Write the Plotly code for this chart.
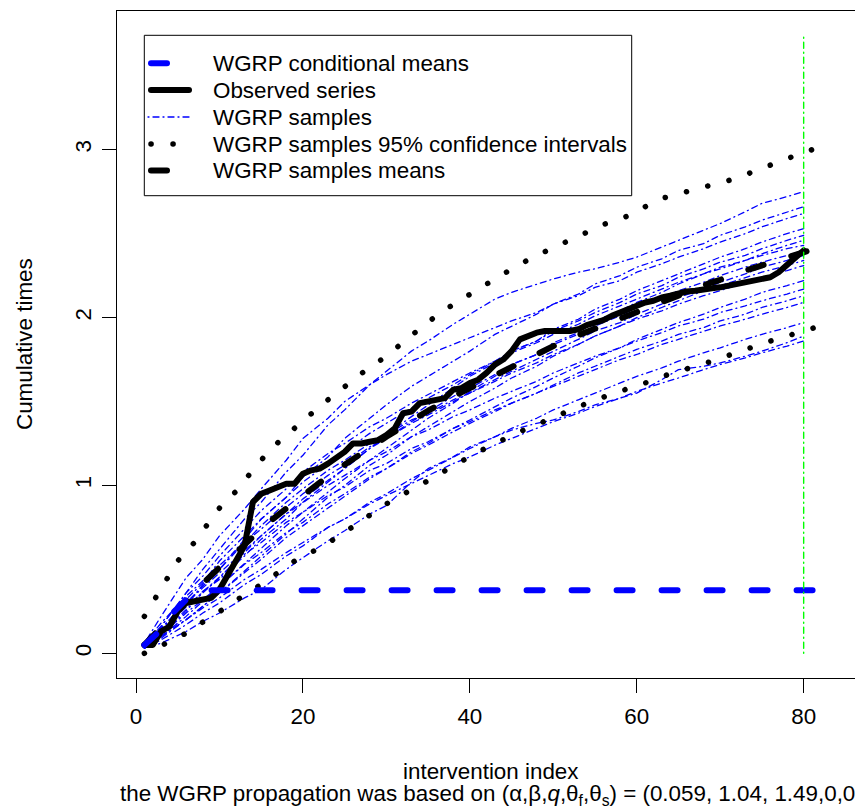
import plotly.graph_objects as go

# ---------------- data ----------------
X_OBS = list(range(1, 81))
OBSERVED = [0.05, 0.05, 0.13, 0.16, 0.25, 0.30, 0.31, 0.32, 0.33, 0.38,
            0.47, 0.56, 0.64, 0.90, 0.95, 0.97, 0.99, 1.01, 1.01, 1.07,
            1.09, 1.10, 1.13, 1.16, 1.20, 1.25, 1.25, 1.26, 1.27, 1.30,
            1.34, 1.43, 1.44, 1.49, 1.50, 1.51, 1.52, 1.57, 1.58, 1.61,
            1.63, 1.67, 1.72, 1.75, 1.80, 1.87, 1.89, 1.91, 1.92, 1.92,
            1.92, 1.92, 1.93, 1.955, 1.97, 1.985, 2.01, 2.03, 2.05, 2.075,
            2.09, 2.10, 2.12, 2.13, 2.145, 2.155, 2.16, 2.17, 2.175, 2.18,
            2.19, 2.20, 2.21, 2.22, 2.23, 2.24, 2.27, 2.31, 2.36, 2.40]

X_EXT = list(range(1, 84))
COND_MEANS = [0.05, 0.09, 0.14, 0.22, 0.27, 0.32, 0.355, 0.375, 0.375, 0.375,
              0.375, 0.375, 0.375, 0.375, 0.375, 0.375, 0.375, 0.375, 0.375, 0.375,
              0.375, 0.375, 0.375, 0.375, 0.375, 0.375, 0.375, 0.375, 0.375, 0.375,
              0.375, 0.375, 0.375, 0.375, 0.375, 0.375, 0.375, 0.375, 0.375, 0.375,
              0.375, 0.375, 0.375, 0.375, 0.375, 0.375, 0.375, 0.375, 0.375, 0.375,
              0.375, 0.375, 0.375, 0.375, 0.375, 0.375, 0.375, 0.375, 0.375, 0.375,
              0.375, 0.375, 0.375, 0.375, 0.375, 0.375, 0.375, 0.375, 0.375, 0.375,
              0.375, 0.375, 0.375, 0.375, 0.375, 0.375, 0.375, 0.375, 0.375, 0.375,
              0.375, 0.375, 0.375]
SAMPLE_MEANS = [0.05, 0.10, 0.155, 0.21, 0.26, 0.31, 0.36, 0.415, 0.465, 0.51,
                0.56, 0.60, 0.65, 0.695, 0.74, 0.785, 0.825, 0.865, 0.905, 0.945,
                0.985, 1.02, 1.055, 1.09, 1.125, 1.16, 1.19, 1.225, 1.255, 1.29,
                1.32, 1.355, 1.385, 1.415, 1.445, 1.475, 1.50, 1.53, 1.555, 1.58,
                1.605, 1.63, 1.66, 1.685, 1.71, 1.735, 1.76, 1.785, 1.81, 1.83,
                1.855, 1.875, 1.895, 1.915, 1.935, 1.955, 1.975, 1.995, 2.015, 2.035,
                2.055, 2.075, 2.095, 2.115, 2.135, 2.155, 2.175, 2.19, 2.21, 2.225,
                2.245, 2.26, 2.28, 2.295, 2.31, 2.325, 2.34, 2.355, 2.375, 2.39,
                2.405, 2.42, 2.44]
CI_UPPER = [0.22, 0.30, 0.39, 0.47, 0.55, 0.61, 0.66, 0.73, 0.80, 0.865,
            0.92, 0.965, 1.03, 1.09, 1.15, 1.21, 1.255, 1.30, 1.34, 1.385,
            1.43, 1.47, 1.51, 1.55, 1.59, 1.635, 1.67, 1.705, 1.735, 1.77,
            1.81, 1.855, 1.895, 1.935, 1.98, 2.02, 2.05, 2.075, 2.11, 2.14,
            2.17, 2.20, 2.225, 2.26, 2.285, 2.315, 2.345, 2.37, 2.395, 2.42,
            2.44, 2.46, 2.485, 2.51, 2.535, 2.555, 2.57, 2.59, 2.605, 2.625,
            2.66, 2.69, 2.71, 2.72, 2.735, 2.75, 2.765, 2.775, 2.79, 2.80,
            2.815, 2.83, 2.85, 2.87, 2.89, 2.91, 2.93, 2.95, 2.965, 2.98,
            3.00, 3.02, 3.04]
CI_LOWER = [0.00, 0.02, 0.045, 0.07, 0.095, 0.12, 0.155, 0.185, 0.215, 0.245,
            0.28, 0.315, 0.35, 0.38, 0.41, 0.445, 0.475, 0.515, 0.55, 0.575,
            0.60, 0.625, 0.655, 0.69, 0.72, 0.755, 0.79, 0.82, 0.855, 0.89,
            0.92, 0.95, 0.975, 1.00, 1.03, 1.06, 1.09, 1.12, 1.145, 1.17,
            1.20, 1.225, 1.25, 1.27, 1.295, 1.32, 1.34, 1.36, 1.38, 1.40,
            1.425, 1.45, 1.47, 1.49, 1.51, 1.525, 1.545, 1.56, 1.58, 1.595,
            1.61, 1.63, 1.645, 1.665, 1.68, 1.695, 1.705, 1.72, 1.74, 1.755,
            1.775, 1.795, 1.81, 1.825, 1.845, 1.86, 1.875, 1.89, 1.905, 1.92,
            1.935, 1.95, 1.965]

SAMPLE_X = [1, 3, 6, 8, 10, 13, 15, 18, 20, 23, 25, 28, 30, 33, 35, 38, 40, 43, 45,
            48, 50, 53, 55, 58, 60, 63, 65, 68, 70, 73, 75, 78, 80]
SAMPLES = [
    [0.05, 0.16, 0.36, 0.50, 0.62, 0.80, 0.90, 1.08, 1.18, 1.36, 1.45, 1.60, 1.68, 1.80, 1.86, 1.96, 2.02, 2.11, 2.15, 2.20, 2.23, 2.27, 2.29, 2.33, 2.36, 2.42, 2.46, 2.52, 2.56, 2.63, 2.68, 2.72, 2.75],
    [0.05, 0.12, 0.28, 0.41, 0.50, 0.68, 0.80, 0.93, 1.05, 1.17, 1.28, 1.40, 1.48, 1.59, 1.65, 1.74, 1.80, 1.90, 1.95, 2.02, 2.08, 2.14, 2.20, 2.25, 2.30, 2.35, 2.40, 2.44, 2.49, 2.54, 2.58, 2.63, 2.66],
    [0.06, 0.22, 0.45, 0.56, 0.70, 0.86, 0.98, 1.15, 1.28, 1.40, 1.50, 1.60, 1.66, 1.74, 1.78, 1.84, 1.88, 1.94, 1.98, 2.03, 2.08, 2.13, 2.18, 2.22, 2.27, 2.32, 2.36, 2.41, 2.45, 2.50, 2.54, 2.59, 2.62],
    [0.04, 0.11, 0.25, 0.37, 0.44, 0.58, 0.68, 0.80, 0.90, 1.02, 1.10, 1.22, 1.30, 1.41, 1.48, 1.58, 1.65, 1.73, 1.80, 1.86, 1.93, 1.99, 2.05, 2.11, 2.16, 2.22, 2.26, 2.32, 2.36, 2.41, 2.45, 2.50, 2.53],
    [0.05, 0.14, 0.32, 0.42, 0.55, 0.70, 0.80, 0.93, 1.02, 1.13, 1.20, 1.31, 1.37, 1.46, 1.52, 1.60, 1.66, 1.74, 1.80, 1.86, 1.92, 1.98, 2.03, 2.09, 2.14, 2.19, 2.24, 2.29, 2.33, 2.37, 2.41, 2.46, 2.49],
    [0.03, 0.10, 0.22, 0.31, 0.40, 0.53, 0.62, 0.76, 0.84, 0.96, 1.04, 1.15, 1.22, 1.33, 1.40, 1.49, 1.56, 1.65, 1.72, 1.78, 1.85, 1.91, 1.98, 2.04, 2.09, 2.15, 2.20, 2.26, 2.30, 2.34, 2.38, 2.43, 2.46],
    [0.05, 0.16, 0.36, 0.46, 0.58, 0.74, 0.85, 0.98, 1.08, 1.19, 1.25, 1.35, 1.40, 1.49, 1.54, 1.62, 1.67, 1.74, 1.79, 1.85, 1.90, 1.96, 2.01, 2.07, 2.11, 2.17, 2.21, 2.26, 2.29, 2.34, 2.37, 2.41, 2.43],
    [0.04, 0.12, 0.26, 0.36, 0.45, 0.60, 0.70, 0.83, 0.92, 1.03, 1.10, 1.22, 1.28, 1.38, 1.44, 1.53, 1.58, 1.66, 1.72, 1.78, 1.84, 1.90, 1.95, 2.01, 2.06, 2.12, 2.16, 2.21, 2.25, 2.30, 2.33, 2.37, 2.40],
    [0.06, 0.18, 0.34, 0.43, 0.52, 0.66, 0.74, 0.87, 0.95, 1.06, 1.12, 1.23, 1.28, 1.37, 1.42, 1.50, 1.55, 1.63, 1.68, 1.75, 1.80, 1.87, 1.92, 1.97, 2.02, 2.08, 2.12, 2.17, 2.21, 2.26, 2.30, 2.34, 2.37],
    [0.04, 0.10, 0.20, 0.28, 0.36, 0.49, 0.58, 0.71, 0.80, 0.93, 1.00, 1.12, 1.18, 1.29, 1.35, 1.44, 1.50, 1.58, 1.64, 1.71, 1.77, 1.84, 1.89, 1.95, 2.00, 2.06, 2.10, 2.16, 2.19, 2.24, 2.27, 2.31, 2.34],
    [0.05, 0.13, 0.30, 0.40, 0.50, 0.66, 0.76, 0.90, 0.98, 1.09, 1.15, 1.25, 1.30, 1.39, 1.43, 1.51, 1.55, 1.62, 1.67, 1.73, 1.78, 1.84, 1.89, 1.95, 1.99, 2.04, 2.08, 2.13, 2.16, 2.21, 2.24, 2.28, 2.31],
    [0.03, 0.09, 0.20, 0.28, 0.36, 0.48, 0.56, 0.69, 0.76, 0.87, 0.94, 1.04, 1.10, 1.20, 1.25, 1.34, 1.39, 1.47, 1.52, 1.59, 1.64, 1.71, 1.76, 1.82, 1.87, 1.93, 1.97, 2.02, 2.06, 2.11, 2.15, 2.19, 2.22],
    [0.05, 0.15, 0.30, 0.39, 0.48, 0.61, 0.70, 0.83, 0.90, 1.00, 1.06, 1.15, 1.20, 1.29, 1.33, 1.41, 1.45, 1.52, 1.56, 1.62, 1.67, 1.73, 1.77, 1.82, 1.86, 1.91, 1.95, 1.99, 2.03, 2.07, 2.10, 2.14, 2.17],
    [0.04, 0.11, 0.24, 0.32, 0.40, 0.53, 0.60, 0.72, 0.78, 0.89, 0.95, 1.05, 1.10, 1.19, 1.24, 1.32, 1.37, 1.44, 1.49, 1.55, 1.60, 1.67, 1.71, 1.77, 1.81, 1.86, 1.90, 1.94, 1.98, 2.02, 2.06, 2.10, 2.13],
    [0.05, 0.14, 0.28, 0.37, 0.46, 0.59, 0.66, 0.78, 0.84, 0.94, 0.99, 1.09, 1.13, 1.22, 1.26, 1.34, 1.38, 1.45, 1.49, 1.55, 1.59, 1.65, 1.69, 1.75, 1.78, 1.84, 1.87, 1.92, 1.95, 1.99, 2.02, 2.06, 2.09],
    [0.03, 0.08, 0.17, 0.24, 0.30, 0.41, 0.47, 0.58, 0.64, 0.75, 0.80, 0.90, 0.95, 1.04, 1.09, 1.17, 1.22, 1.29, 1.34, 1.40, 1.45, 1.51, 1.55, 1.61, 1.65, 1.70, 1.74, 1.79, 1.82, 1.87, 1.90, 1.94, 1.97],
    [0.03, 0.06, 0.13, 0.19, 0.24, 0.33, 0.38, 0.50, 0.57, 0.67, 0.73, 0.83, 0.88, 1.02, 1.10, 1.17, 1.23, 1.29, 1.33, 1.37, 1.39, 1.44, 1.48, 1.52, 1.55, 1.63, 1.69, 1.71, 1.73, 1.77, 1.80, 1.85, 1.89],
    [0.04, 0.10, 0.20, 0.27, 0.33, 0.44, 0.50, 0.60, 0.66, 0.75, 0.80, 0.89, 0.94, 1.01, 1.06, 1.13, 1.17, 1.24, 1.28, 1.34, 1.38, 1.43, 1.47, 1.52, 1.56, 1.61, 1.64, 1.69, 1.72, 1.76, 1.79, 1.83, 1.86],
]

GREEN_X = [80, 80]
GREEN_Y = [0.0, 3.68]

X_TICKS = [0, 20, 40, 60, 80]
Y_TICKS = [0, 1, 2, 3]

LEGEND_LABELS = ["WGRP conditional means", "Observed series", "WGRP samples",
                 "WGRP samples 95% confidence intervals", "WGRP samples means"]
X_TITLE = "intervention index"
Y_TITLE = "Cumulative times"
SUBTITLE = ("the WGRP propagation was based on (α,β,<i>q</i>,θ<sub>f</sub>,θ<sub>s</sub>) "
            "= (0.059, 1.04, 1.49,0,0)")

# ---------------- layout geometry ----------------
W, H = 855, 807
PL, PR, PT, PB = 117, 855, 11, 678   # plot area in pixels
FONT = "Liberation Sans, Arial, Helvetica, sans-serif"
FS = 22.4

def pxx(px):
    return (px - PL) / (PR - PL)

def pxy(py):
    return (PB - py) / (PB - PT)

BLUE = "#0000FF"
SAMPLE_DASH = "1px,4px,6px,4px"
THICK_DASH = "16px,29px"
DOT_DASH = "0.1px,21.9px"

fig = go.Figure()

for s in SAMPLES:
    fig.add_trace(go.Scatter(x=SAMPLE_X, y=s, mode="lines",
                             line=dict(color=BLUE, width=1.3, dash=SAMPLE_DASH),
                             showlegend=False, hoverinfo="skip"))

fig.add_trace(go.Scatter(x=X_OBS, y=OBSERVED, mode="lines",
                         line=dict(color="black", width=6), showlegend=False))
fig.add_trace(go.Scatter(x=X_EXT, y=CI_UPPER, mode="lines",
                         line=dict(color="black", width=5.5, dash=DOT_DASH), showlegend=False))
fig.add_trace(go.Scatter(x=X_EXT, y=CI_LOWER, mode="lines",
                         line=dict(color="black", width=5.5, dash=DOT_DASH), showlegend=False))
fig.add_trace(go.Scatter(x=X_EXT, y=SAMPLE_MEANS, mode="lines",
                         line=dict(color="black", width=6, dash=THICK_DASH), showlegend=False))
fig.add_trace(go.Scatter(x=X_EXT, y=COND_MEANS, mode="lines",
                         line=dict(color=BLUE, width=6, dash=THICK_DASH), showlegend=False))
fig.add_trace(go.Scatter(x=GREEN_X, y=GREEN_Y, mode="lines",
                         line=dict(color="#00FF00", width=1.4, dash=SAMPLE_DASH), showlegend=False))

# ---------------- manual legend (R style) ----------------
shapes = []
annotations = []
LX0, LX1, LY0, LY1 = 144.7, 631.7, 35.3, 195.7
shapes.append(dict(type="rect", xref="paper", yref="paper",
                   x0=pxx(LX0), x1=pxx(LX1), y0=pxy(LY1), y1=pxy(LY0),
                   line=dict(color="black", width=1), fillcolor="rgba(0,0,0,0)"))
rows = [63.3, 90.0, 117.0, 144.0, 170.5]
styles = [
    dict(color=BLUE, width=6, dash=THICK_DASH),
    dict(color="black", width=6, dash="solid"),
    dict(color=BLUE, width=1.3, dash=SAMPLE_DASH),
    dict(color="black", width=5.5, dash=DOT_DASH),
    dict(color="black", width=6, dash=THICK_DASH),
]
for ry, st, lab in zip(rows, styles, LEGEND_LABELS):
    x0, x1 = (151, 189) if st["width"] > 2 else (148, 192)
    shapes.append(dict(type="line", xref="paper", yref="paper",
                       x0=pxx(x0), x1=pxx(x1), y0=pxy(ry), y1=pxy(ry), line=st))
    annotations.append(dict(text=lab, xref="paper", yref="paper",
                            x=pxx(210.5), y=pxy(ry), xanchor="left", yanchor="middle",
                            showarrow=False, font=dict(family=FONT, size=FS, color="black")))

# axis titles / subtitle
annotations.append(dict(text=X_TITLE, xref="paper", yref="paper",
                        x=pxx(490.7), y=pxy(771), xanchor="center", yanchor="middle",
                        showarrow=False, font=dict(family=FONT, size=FS, color="black")))
annotations.append(dict(text=SUBTITLE, xref="paper", yref="paper",
                        x=pxx(118), y=pxy(795), xanchor="left", yanchor="middle",
                        showarrow=False, font=dict(family=FONT, size=FS, color="black")))
annotations.append(dict(text=Y_TITLE, xref="paper", yref="paper",
                        x=pxx(24), y=pxy(344), xanchor="center", yanchor="middle",
                        textangle=-90, showarrow=False,
                        font=dict(family=FONT, size=FS, color="black")))

fig.update_layout(
    width=W, height=H,
    margin=dict(l=PL, r=W - PR, t=PT, b=H - PB, pad=0),
    paper_bgcolor="white", plot_bgcolor="white",
    showlegend=False,
    shapes=shapes, annotations=annotations,
    font=dict(family=FONT, size=FS, color="black"),
    xaxis=dict(range=[-2.28, 86.15], tickmode="array", tickvals=X_TICKS,
               ticks="outside", ticklen=14, tickwidth=1, tickcolor="black",
               showline=True, linecolor="black", linewidth=1, mirror=True,
               showgrid=False, zeroline=False, ticklabelstandoff=4,
               tickfont=dict(family=FONT, size=FS, color="black")),
    yaxis=dict(range=[-0.147, 3.826], tickmode="array", tickvals=Y_TICKS,
               ticks="outside", ticklen=14, tickwidth=1, tickcolor="black",
               showline=True, linecolor="black", linewidth=1, mirror=False,
               showgrid=False, zeroline=False, tickangle=-90, ticklabelstandoff=2,
               tickfont=dict(family=FONT, size=FS, color="black")),
)

POST = """
document.querySelectorAll('.scatterlayer path.js-line, .shapelayer path').forEach(function(p){
  p.style.strokeLinecap = 'round';
  p.style.strokeLinejoin = 'round';
});
"""

fig.write_html("out.html", post_script=POST)
